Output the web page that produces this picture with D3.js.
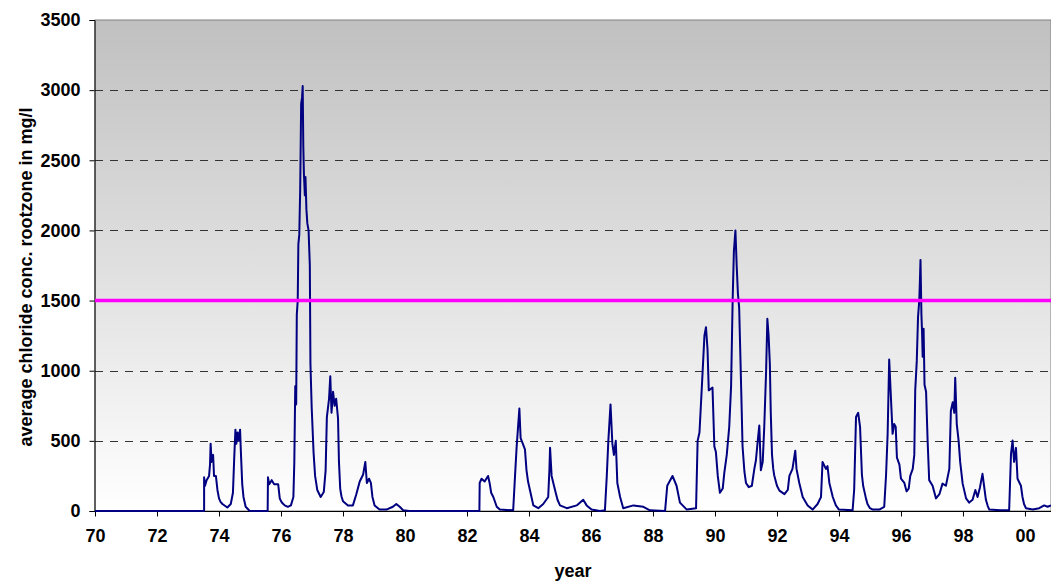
<!DOCTYPE html>
<html>
<head>
<meta charset="utf-8">
<title>Average chloride concentration rootzone</title>
<script src="https://cdn.jsdelivr.net/npm/d3@7"></script>
<style>
    html, body { margin: 0; padding: 0; background: #ffffff; }
    #chart { width: 1051px; height: 584px; }
    text { font-family: "Liberation Sans", Arial, sans-serif; font-weight: bold; fill: #000; }
</style>
</head>
<body>
<div id="chart"></div>
<script>
// Chart data (years as 19xx, 100 = 2000)
const years = [
    70.0, 73.52, 73.52, 73.55, 73.6, 73.68, 73.71, 73.73, 73.76, 73.81, 73.84, 73.9, 73.95, 74.0, 74.05, 74.11, 74.27,
    74.38, 74.45, 74.49, 74.53, 74.56, 74.6, 74.64, 74.68, 74.71, 74.75, 74.79, 74.86, 74.97, 75.0, 75.57, 75.58,
    75.62, 75.7, 75.78, 75.91, 75.96, 76.0, 76.05, 76.12, 76.22, 76.32, 76.4, 76.43, 76.46, 76.49, 76.51, 76.54, 76.56, 76.59,
    76.62, 76.65, 76.68, 76.7, 76.72, 76.74, 76.77, 76.79, 76.82, 76.85, 76.89, 76.93, 76.95, 76.99, 77.05, 77.1,
    77.17, 77.28, 77.38, 77.44, 77.48, 77.55, 77.59, 77.63, 77.68, 77.73, 77.78, 77.84, 77.87, 77.91, 77.95, 78.0, 78.16,
    78.32, 78.43, 78.54, 78.65, 78.72, 78.77, 78.84, 78.9, 78.95, 79.02, 79.18, 79.4, 79.61, 79.72, 79.83, 79.94,
    80.15, 82.4, 82.41, 82.47, 82.57, 82.68, 82.73, 82.78, 82.85, 82.96, 83.06, 83.49, 83.55, 83.6, 83.69, 83.73,
    83.8, 83.87, 83.92, 83.97, 84.03, 84.14, 84.3, 84.46, 84.62, 84.66, 84.68, 84.73, 84.84, 84.92, 85.0, 85.22, 85.54, 85.75,
    85.86, 86.02, 86.29, 86.45, 86.51, 86.56, 86.63, 86.69, 86.74, 86.8, 86.85, 86.94, 87.04, 87.37, 87.69, 87.9,
    88.39, 88.46, 88.63, 88.76, 88.87, 89.09, 89.39, 89.44, 89.5, 89.58, 89.66, 89.71, 89.76, 89.8, 89.86, 89.92,
    89.98, 90.03, 90.09, 90.16, 90.25, 90.3, 90.38, 90.46, 90.52, 90.57, 90.61, 90.66, 90.7, 90.74, 90.78, 90.82,
    90.86, 90.89, 90.95, 91.0, 91.09, 91.19, 91.27, 91.32, 91.38, 91.43, 91.48, 91.54, 91.59, 91.65, 91.69, 91.73, 91.77,
    91.8, 91.84, 91.88, 91.91, 92.0, 92.08, 92.24, 92.35, 92.4, 92.5, 92.59, 92.63, 92.72, 92.83, 92.99, 93.15, 93.31, 93.42,
    93.47, 93.58, 93.63, 93.69, 93.8, 93.9, 94.0, 94.44, 94.49, 94.55, 94.62, 94.68, 94.74, 94.78, 94.82, 94.87, 94.92, 95.0, 95.09,
    95.3, 95.46, 95.52, 95.57, 95.62, 95.68, 95.73, 95.78, 95.83, 95.87, 95.95, 96.0, 96.11, 96.18, 96.25, 96.3,
    96.38, 96.43, 96.46, 96.51, 96.55, 96.59, 96.61, 96.63, 96.66, 96.68, 96.7, 96.73, 96.76, 96.81, 96.86, 96.91,
    97.02, 97.13, 97.24, 97.34, 97.45, 97.56, 97.61, 97.67, 97.72, 97.75, 97.8, 97.86, 97.91, 97.99, 98.1, 98.2,
    98.31, 98.4, 98.47, 98.55, 98.63, 98.68, 98.74, 98.8, 98.85, 99.2, 99.49, 99.55, 99.6, 99.65, 99.71, 99.76, 99.87,
    99.92, 99.97, 100.03, 100.25, 100.46, 100.62, 100.73, 100.84
];

const chloride = [
    0, 0, 240, 180, 220, 250, 330, 480, 350, 400, 250, 250, 150, 90, 65, 50, 25,
    50, 130, 370, 580, 480, 560, 500, 580, 400, 190, 100, 30, 5, 0, 0, 240,
    190, 220, 190, 190, 90, 70, 55, 40, 30, 40, 100, 350, 890, 760, 1400, 1500, 1900, 1970,
    2300, 2900, 2950, 3030, 2600, 2400, 2250, 2380, 2150, 2050, 2000, 1750, 1050, 740, 420, 250,
    150, 100, 135, 290, 670, 800, 960, 700, 850, 750, 800, 660, 350, 160, 105, 70, 40,
    40, 120, 210, 260, 350, 200, 230, 200, 100, 40, 10, 10, 30, 50, 30, 5,
    0, 0, 200, 230, 210, 250, 200, 130, 100, 30, 10, 5, 250, 450, 730, 520,
    480, 440, 290, 210, 150, 40, 20, 50, 100, 300, 450, 250, 150, 80, 40, 20, 40, 80,
    40, 10, 0, 5, 250, 500, 760, 480, 400, 500, 200, 100, 20, 40, 30, 5,
    0, 180, 250, 180, 60, 10, 20, 500, 560, 900, 1250, 1310, 1150, 860, 870, 880,
    460, 420, 250, 130, 160, 270, 400, 600, 890, 1500, 1850, 2000, 1750, 1550, 1450, 1100,
    740, 460, 280, 200, 170, 180, 300, 360, 500, 610, 290, 350, 600, 1000, 1370, 1250, 1050,
    700, 400, 300, 255, 180, 145, 120, 150, 250, 300, 430, 300, 200, 100, 40, 10, 50, 100,
    350, 300, 320, 200, 100, 40, 10, 5, 150, 670, 700, 600, 260, 180, 140, 90, 50, 20, 10,
    10, 30, 260, 550, 1080, 790, 550, 620, 600, 380, 330, 230, 200, 140, 160, 250,
    300, 400, 860, 1070, 1380, 1500, 1630, 1790, 1400, 1280, 1100, 1300, 900, 850, 500, 220,
    180, 90, 120, 195, 180, 300, 715, 775, 700, 950, 620, 500, 350, 195, 90, 60,
    80, 150, 100, 170, 265, 180, 80, 35, 10, 5, 5, 407, 502, 350, 450, 230, 180,
    100, 50, 20, 10, 20, 40, 30, 40
];

const threshold = 1500;
const yTicks = [0, 500, 1000, 1500, 2000, 2500, 3000, 3500];
const xTicks = [70, 72, 74, 76, 78, 80, 82, 84, 86, 88, 90, 92, 94, 96, 98, 100];
const yGrid = [500, 1000, 2000, 2500, 3000];

document.addEventListener("DOMContentLoaded", () => {
    const width = 1051;
    const height = 584;
    const margin = { top: 20, right: 0, bottom: 73, left: 95 };
    const plotW = width - margin.left - margin.right;
    const plotH = height - margin.top - margin.bottom;

    const svg = d3.select("#chart")
        .append("svg")
        .attr("width", width)
        .attr("height", height)
        .attr("viewBox", `0 0 ${width} ${height}`);

    // Grey-to-white plot background
    const defs = svg.append("defs");
    const grad = defs.append("linearGradient")
        .attr("id", "plot-bg")
        .attr("x1", 0).attr("y1", 0)
        .attr("x2", 0).attr("y2", 1);
    grad.append("stop").attr("offset", "0%").attr("stop-color", "#c0c0c0");
    grad.append("stop").attr("offset", "100%").attr("stop-color", "#ffffff");

    const x = d3.scaleLinear().domain([70, 100.84]).range([margin.left, width - margin.right]);
    const y = d3.scaleLinear().domain([0, 3500]).range([margin.top + plotH, margin.top]);

    svg.append("rect")
        .attr("x", margin.left)
        .attr("y", margin.top)
        .attr("width", plotW)
        .attr("height", plotH)
        .attr("fill", "url(#plot-bg)")
        .attr("stroke", "#808080")
        .attr("stroke-width", 1);

    // Dashed gridlines
    svg.append("g")
        .selectAll("line")
        .data(yGrid)
        .enter()
        .append("line")
        .attr("x1", margin.left)
        .attr("x2", width - margin.right)
        .attr("y1", d => Math.round(y(d)) + 0.5)
        .attr("y2", d => Math.round(y(d)) + 0.5)
        .attr("stroke", "#333")
        .attr("stroke-width", 1)
        .attr("stroke-dasharray", "8,7");

    // Axes
    const yAxis = d3.axisLeft(y)
        .tickValues(yTicks)
        .tickSize(5)
        .tickPadding(9)
        .tickFormat(d3.format("d"));

    const gy = svg.append("g")
        .attr("transform", `translate(${margin.left - 0.5},0)`)
        .call(yAxis);

    const xAxis = d3.axisBottom(x)
        .tickValues(xTicks)
        .tickSize(5)
        .tickPadding(13)
        .tickFormat(d => d3.format("02d")(d % 100));

    const gx = svg.append("g")
        .attr("transform", `translate(0,${margin.top + plotH + 0.5})`)
        .call(xAxis);

    [gx, gy].forEach(g => {
        g.select(".domain").attr("stroke", "#000").attr("stroke-width", 1);
        g.selectAll(".tick line").attr("stroke", "#000");
        g.selectAll("text")
            .attr("fill", "#000")
            .style("font-size", "18px")
            .style("font-weight", "bold");
    });
    gx.select(".domain").attr("d", `M${margin.left},0H${width}`);

    // Data series
    const series = years.map((yr, i) => ({ year: yr, value: chloride[i] }));

    const line = d3.line()
        .x(d => x(d.year))
        .y(d => y(d.value));

    svg.append("path")
        .datum(series)
        .attr("d", line)
        .attr("fill", "none")
        .attr("stroke", "#000080")
        .attr("stroke-width", 2)
        .attr("stroke-linejoin", "round");

    // Threshold line
    svg.append("line")
        .attr("x1", margin.left)
        .attr("x2", width - margin.right)
        .attr("y1", y(threshold))
        .attr("y2", y(threshold))
        .attr("stroke", "#ff00ff")
        .attr("stroke-width", 3.5);

    // Axis titles
    svg.append("text")
        .attr("x", margin.left + plotW / 2)
        .attr("y", 577)
        .attr("text-anchor", "middle")
        .style("font-size", "18px")
        .text("year");

    svg.append("text")
        .attr("transform", "translate(32,277) rotate(-90)")
        .attr("text-anchor", "middle")
        .style("font-size", "18px")
        .text("average chloride conc. rootzone in mg/l");
});
</script>
</body>
</html>
